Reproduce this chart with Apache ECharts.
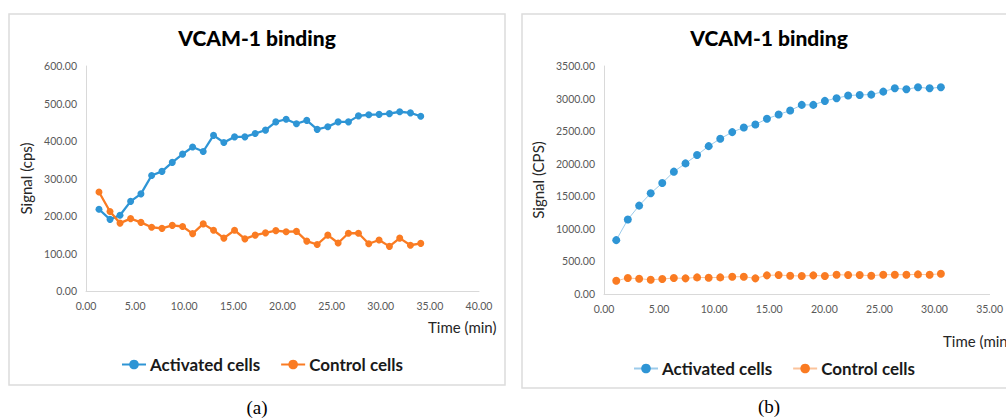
<!DOCTYPE html>
<html>
<head>
<meta charset="utf-8">
<script src="https://cdn.jsdelivr.net/npm/echarts@6/dist/echarts.min.js"></script>
<style>
  html, body { margin: 0; padding: 0; background: #fff; }
  #wrap { position: relative; width: 1006px; height: 418px; overflow: hidden; }
  #ca { position: absolute; left: 0; top: 0; width: 515px; height: 418px; }
  #cb { position: absolute; left: 515px; top: 0; width: 491px; height: 418px; }
</style>
</head>
<body>
<div id="wrap"><div id="ca"></div><div id="cb"></div></div>
<script>
// ---- Data: panel (a) ----
const timeA = [1.32, 2.44, 3.46, 4.54, 5.59, 6.68, 7.73, 8.78, 9.83, 10.85, 11.93, 12.98, 14.03, 15.12, 16.17, 17.22, 18.27, 19.32, 20.37, 21.42, 22.47, 23.53, 24.61, 25.66, 26.71, 27.73, 28.78, 29.83, 30.88, 31.93, 33.02, 34.07];
const activatedA = [218, 191, 202, 239, 259, 308, 319, 343, 365, 384, 372, 415, 396, 411, 411, 420, 429, 451, 458, 446, 455, 431, 438, 451, 451, 467, 470, 471, 473, 478, 475, 466];
const controlA = [264, 212, 181, 193, 183, 170, 167, 175, 172, 153, 179, 162, 141, 162, 139, 149, 155, 161, 158, 159, 133, 124, 149, 128, 154, 154, 126, 136, 119, 141, 122, 127];
// ---- Data: panel (b) ----
const timeB = [1.11, 2.16, 3.19, 4.24, 5.29, 6.34, 7.40, 8.45, 9.50, 10.55, 11.64, 12.69, 13.74, 14.79, 15.85, 16.90, 17.95, 19.00, 20.05, 21.11, 22.16, 23.21, 24.26, 25.35, 26.40, 27.45, 28.50, 29.56, 30.58];
const activatedB = [827, 1143, 1357, 1546, 1704, 1878, 2005, 2133, 2270, 2383, 2485, 2556, 2602, 2689, 2755, 2816, 2903, 2903, 2964, 3005, 3046, 3056, 3061, 3107, 3158, 3143, 3173, 3158, 3173];
const controlB = [204, 245, 235, 219, 230, 245, 240, 255, 250, 255, 265, 265, 240, 286, 291, 281, 276, 286, 276, 296, 291, 291, 281, 296, 296, 296, 301, 296, 311];
// ---- Labels ----
const titleText = 'VCAM-1 binding';
const seriesNames = ['Activated cells', 'Control cells'];
const xName = 'Time (min)';
const yNameA = 'Signal (cps)';
const yNameB = 'Signal (CPS)';
const captions = ['(a)', '(b)'];

const BLUE = '#2E95D5', ORANGE = '#FA7B22';
const FONT = 'Lato';
const pairs = (xs, ys) => xs.map((x, i) => [x, ys[i]]);
const fmt2 = v => v.toFixed(2);

function buildOption(cfg) {
  return {
    animation: false,
    textStyle: { fontFamily: FONT },
    title: {
      text: titleText, left: cfg.titleX, top: 27, textAlign: 'center', padding: 0,
      textStyle: { fontFamily: FONT, fontSize: 21, fontWeight: 900, color: '#000' }
    },
    legend: {
      left: cfg.legendLeft, top: cfg.legendTop, padding: 0, itemWidth: cfg.itemW, itemHeight: 12, itemGap: cfg.legendGap,
      textStyle: { fontFamily: FONT, fontSize: 17, fontWeight: 'bold', color: '#1a1a1a', padding: [0, 0, 0, -1] },
      data: cfg.legendData
    },
    grid: { left: cfg.grid[0], top: cfg.grid[1], width: cfg.grid[2], height: cfg.grid[3] },
    xAxis: {
      type: 'value', min: 0, max: cfg.xMax, interval: 5,
      axisLine: { lineStyle: { color: '#d9d9d9', width: 1 } },
      axisTick: { show: false }, splitLine: { show: false },
      axisLabel: { formatter: fmt2, color: '#595959', fontSize: 10.5, margin: 9, fontFamily: FONT }
    },
    yAxis: {
      type: 'value', min: 0, max: cfg.yMax, interval: cfg.yInt,
      axisLine: { show: true, lineStyle: { color: '#d9d9d9', width: 1 } },
      axisTick: { show: false }, splitLine: { show: false },
      axisLabel: { formatter: fmt2, color: '#595959', fontSize: 10.5, margin: 9, fontFamily: FONT },
      name: cfg.yName, nameLocation: 'middle', nameGap: cfg.yNameGap, nameRotate: 90,
      nameTextStyle: { fontFamily: FONT, fontSize: 15, color: '#262626' }
    },
    graphic: [
      { type: 'rect', shape: cfg.box, style: { fill: 'none', stroke: '#dcdcdc', lineWidth: 1.5 }, silent: true },
      { type: 'text', left: cfg.xNamePos[0], top: cfg.xNamePos[1],
        style: { text: xName, font: '15px ' + FONT, fill: '#262626' } },
      { type: 'text', x: cfg.capPos[0], y: cfg.capPos[1],
        style: { text: cfg.caption, font: '19px "Liberation Serif", "DejaVu Serif", serif', fill: '#000', align: 'center', verticalAlign: 'middle' } }
    ],
    series: cfg.series
  };
}

const ca = echarts.init(document.getElementById('ca'), null, { renderer: 'svg' });
ca.setOption(buildOption({
  titleX: 257, legendLeft: 121, legendTop: 356, itemW: 24, legendGap: 20,
  legendData: seriesNames,
  grid: [86, 66, 393, 225], xMax: 40, yMax: 600, yInt: 100,
  yName: yNameA, yNameGap: 43,
  box: { x: 9, y: 14, width: 496, height: 371 },
  xNamePos: [428, 319], capPos: [257, 407], caption: captions[0],
  series: [
    { name: seriesNames[0], type: 'line', data: pairs(timeA, activatedA), symbol: 'circle', symbolSize: 7,
      itemStyle: { color: BLUE }, lineStyle: { color: BLUE, width: 2.3 } },
    { name: seriesNames[1], type: 'line', data: pairs(timeA, controlA), symbol: 'circle', symbolSize: 7,
      itemStyle: { color: ORANGE }, lineStyle: { color: ORANGE, width: 2.3 } }
  ]
}));

const cb = echarts.init(document.getElementById('cb'), null, { renderer: 'svg' });
cb.setOption(buildOption({
  titleX: 254, legendLeft: 118, legendTop: 360, itemW: 24, legendGap: 20,
  legendData: seriesNames,
  grid: [89, 66, 388, 228], xMax: 35, yMax: 3500, yInt: 500,
  yName: yNameB, yNameGap: 45,
  box: { x: 7, y: 14, width: 520, height: 374 },
  xNamePos: [428, 333], capPos: [254, 406], caption: captions[1],
  series: [
    { name: seriesNames[0], type: 'line', data: pairs(timeB, activatedB), symbol: 'circle', symbolSize: 8,
      itemStyle: { color: BLUE }, lineStyle: { color: '#9ccbea', width: 1 } },
    { name: seriesNames[1], type: 'line', data: pairs(timeB, controlB), symbol: 'circle', symbolSize: 8,
      itemStyle: { color: ORANGE }, lineStyle: { color: '#fbc39b', width: 1 } }
  ]
}));
</script>
</body>
</html>
